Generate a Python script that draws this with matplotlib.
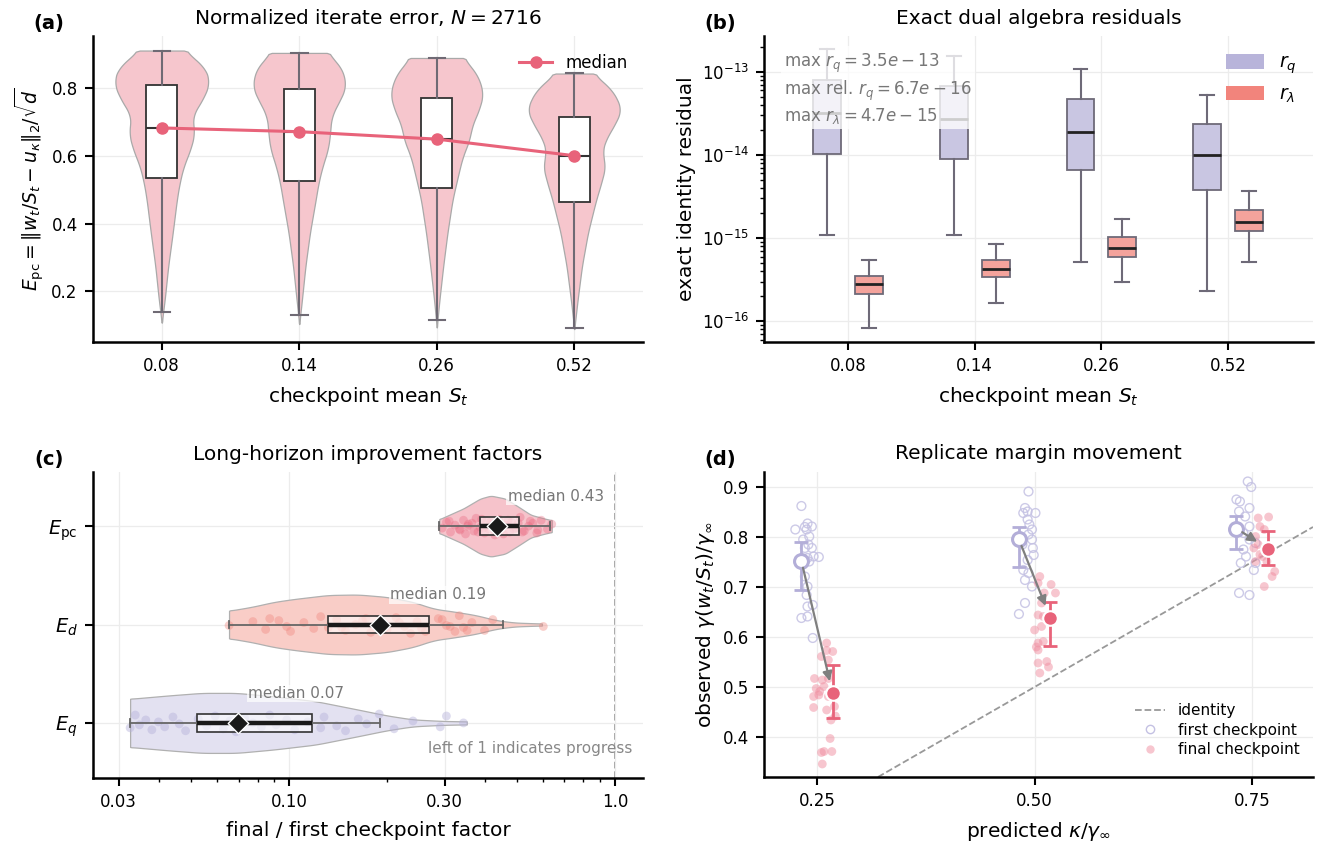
import numpy as np
import matplotlib
matplotlib.use('Agg')
import matplotlib.pyplot as plt
from matplotlib.lines import Line2D
from matplotlib.patches import Patch

plt.rcParams['font.family'] = ['DejaVu Sans']
plt.rcParams['mathtext.fontset'] = 'dejavusans'

# ------------------------------------------------------------------ data
checkpoints = ['0.08', '0.14', '0.26', '0.52']

# (a) normalized iterate error
epc_med = [0.683, 0.672, 0.650, 0.601]
epc_q1 = [0.535, 0.525, 0.505, 0.463]
epc_q3 = [0.810, 0.798, 0.773, 0.715]
epc_lo = [0.140, 0.130, 0.115, 0.092]
epc_hi = [0.912, 0.905, 0.890, 0.845]
# violin outlines: level and half-width
viol_y = [
    [0.107, 0.177, 0.275, 0.374, 0.472, 0.521, 0.571, 0.620, 0.669, 0.718, 0.768, 0.817, 0.866, 0.912],
    [0.103, 0.177, 0.275, 0.374, 0.472, 0.521, 0.571, 0.620, 0.669, 0.718, 0.768, 0.807, 0.866, 0.905],
    [0.093, 0.177, 0.275, 0.374, 0.472, 0.551, 0.600, 0.649, 0.689, 0.738, 0.787, 0.846, 0.890],
    [0.088, 0.177, 0.275, 0.374, 0.472, 0.521, 0.571, 0.610, 0.649, 0.689, 0.738, 0.797, 0.844],
]
viol_w = [
    [0.0, 0.022, 0.047, 0.080, 0.110, 0.130, 0.160, 0.210, 0.240, 0.220, 0.300, 0.350, 0.310, 0.160],
    [0.0, 0.020, 0.045, 0.078, 0.120, 0.140, 0.170, 0.210, 0.225, 0.234, 0.300, 0.343, 0.305, 0.200],
    [0.0, 0.020, 0.047, 0.078, 0.115, 0.160, 0.190, 0.240, 0.255, 0.310, 0.340, 0.290, 0.190],
    [0.0, 0.025, 0.056, 0.100, 0.160, 0.197, 0.228, 0.203, 0.228, 0.290, 0.346, 0.275, 0.135],
]

# (b) exact dual algebra residuals
rq_med = [3.2e-14, 2.7e-14, 1.9e-14, 1.0e-14]
rq_q1 = [1.03e-14, 8.9e-15, 6.6e-15, 3.8e-15]
rq_q3 = [8.0e-14, 6.7e-14, 4.7e-14, 2.34e-14]
rq_lo = [1.1e-15, 1.1e-15, 5.1e-16, 2.3e-16]
rq_hi = [1.86e-13, 1.55e-13, 1.09e-13, 5.3e-14]
rl_med = [2.8e-16, 4.2e-16, 7.6e-16, 1.58e-15]
rl_q1 = [2.1e-16, 3.4e-16, 6.0e-16, 1.23e-15]
rl_q3 = [3.5e-16, 5.4e-16, 1.04e-15, 2.2e-15]
rl_lo = [8.3e-17, 1.66e-16, 3.0e-16, 5.2e-16]
rl_hi = [5.5e-16, 8.5e-16, 1.7e-15, 3.7e-15]
max_rq = '3.5e-13'
max_rel_rq = '6.7e-16'
max_rl = '4.7e-15'
decade_ticks = [1e-16, 1e-15, 1e-14, 1e-13]

# (c) long-horizon improvement factors
fac_labels = [r'$E_{\rm pc}$', r'$E_d$', r'$E_q$']
fac_med = [0.436, 0.190, 0.0695]
fac_q1 = [0.386, 0.132, 0.0522]
fac_q3 = [0.507, 0.269, 0.1174]
fac_lo = [0.289, 0.0654, 0.0325]
fac_hi = [0.631, 0.455, 0.190]
fac_med_text = ['0.43', '0.19', '0.07']
fac_viol_x = [
    [0.289, 0.343, 0.386, 0.416, 0.461, 0.504, 0.552, 0.603, 0.640],
    [0.0654, 0.077, 0.090, 0.104, 0.132, 0.163, 0.200, 0.240, 0.278, 0.323, 0.375, 0.430, 0.490, 0.597],
    [0.0325, 0.043, 0.054, 0.069, 0.090, 0.121, 0.163, 0.200, 0.240, 0.295, 0.351],
]
fac_viol_w = [
    [0.07, 0.18, 0.28, 0.31, 0.28, 0.20, 0.115, 0.08, 0.06],
    [0.14, 0.18, 0.23, 0.26, 0.30, 0.305, 0.28, 0.23, 0.16, 0.13, 0.095, 0.045, 0.02, 0.01],
    [0.245, 0.28, 0.305, 0.305, 0.27, 0.22, 0.135, 0.075, 0.035, 0.02, 0.015],
]
pts_pc = [0.295, 0.304, 0.313, 0.323, 0.333, 0.343, 0.348, 0.353, 0.364, 0.369, 0.375, 0.386,
          0.398, 0.404, 0.410, 0.422, 0.428, 0.441, 0.448, 0.461, 0.475, 0.482, 0.497, 0.512,
          0.527, 0.543, 0.560, 0.576, 0.594, 0.621, 0.640,
          0.310, 0.335, 0.355, 0.380, 0.390, 0.395, 0.415, 0.430, 0.445, 0.455, 0.470, 0.490,
          0.505, 0.520, 0.550, 0.580]
jit_pc = [0.02, -0.04, 0.06, -0.01, 0.03, -0.06, 0.08, 0.00, -0.03, 0.05, -0.08, 0.01, 0.07,
          -0.05, 0.03, -0.02, 0.09, -0.07, 0.04, -0.01, 0.06, -0.04, 0.02, -0.09, 0.05, 0.00,
          -0.03, 0.07, -0.06, 0.03, -0.02,
          -0.05, 0.04, -0.02, 0.06, -0.07, 0.02, -0.04, 0.05, -0.01, 0.08, -0.06, 0.03, -0.03,
          0.06, -0.05, 0.04]
pts_d = [0.0654, 0.0774, 0.0847, 0.0872, 0.0983, 0.101, 0.111, 0.119, 0.125, 0.132, 0.140,
         0.149, 0.160, 0.168, 0.178, 0.189, 0.200, 0.213, 0.226, 0.236, 0.247, 0.255, 0.287,
         0.304, 0.323, 0.333, 0.343, 0.364, 0.398, 0.422, 0.603,
         0.093, 0.145, 0.172, 0.195, 0.218, 0.262, 0.295, 0.312, 0.352]
jit_d = [0.01, -0.03, 0.05, -0.06, 0.02, 0.07, -0.02, 0.04, -0.08, 0.03, -0.05, 0.06, 0.00,
         -0.04, 0.08, -0.01, 0.05, -0.07, 0.02, 0.09, -0.03, 0.04, -0.06, 0.01, 0.07, -0.09,
         0.03, -0.02, 0.06, -0.05, 0.02,
         -0.04, 0.03, -0.06, 0.05, -0.02, 0.07, -0.05, 0.02, 0.06]
pts_q = [0.0325, 0.0337, 0.0347, 0.0363, 0.0379, 0.0397, 0.0415, 0.0440, 0.0460, 0.0481,
         0.0526, 0.0558, 0.0593, 0.0628, 0.0658, 0.0687, 0.0730, 0.0774, 0.0822, 0.0872,
         0.0912, 0.0983, 0.104, 0.114, 0.125, 0.128, 0.140, 0.149, 0.163, 0.173, 0.189,
         0.210, 0.240, 0.291, 0.304, 0.343]
jit_q = [0.05, -0.08, 0.02, -0.03, 0.07, -0.01, 0.04, -0.06, 0.01, 0.08, -0.04, 0.03, -0.07,
         0.06, -0.02, 0.09, -0.05, 0.00, 0.04, -0.08, 0.02, -0.03, 0.07, -0.01, 0.05, -0.06,
         0.03, 0.08, -0.04, 0.01, -0.09, 0.06, -0.02, 0.04, -0.07, 0.00]

# (d) replicate margin movement
pred = [0.25, 0.50, 0.75]
first_mean = [0.752, 0.795, 0.817]
first_lo = [0.694, 0.741, 0.776]
first_hi = [0.790, 0.821, 0.843]
final_mean = [0.487, 0.639, 0.777]
final_lo = [0.437, 0.583, 0.744]
final_hi = [0.543, 0.669, 0.813]
first_x = [
    [0.232, 0.225, 0.236, 0.239, 0.244, 0.238, 0.241, 0.234, 0.240, 0.236, 0.244, 0.246, 0.252,
     0.239, 0.241, 0.236, 0.239, 0.238, 0.239, 0.245, 0.232, 0.239, 0.245],
    [0.493, 0.489, 0.492, 0.487, 0.501, 0.492, 0.494, 0.497, 0.493, 0.497, 0.486, 0.498, 0.499,
     0.492, 0.487, 0.493, 0.489, 0.497, 0.489, 0.482],
    [0.745, 0.749, 0.732, 0.736, 0.747, 0.735, 0.742, 0.747, 0.740, 0.747, 0.754, 0.740, 0.743,
     0.752, 0.735, 0.747, 0.754, 0.737],
]
first_y = [
    [0.862, 0.815, 0.820, 0.827, 0.821, 0.815, 0.801, 0.795, 0.785, 0.778, 0.778, 0.761, 0.760,
     0.758, 0.751, 0.721, 0.701, 0.684, 0.661, 0.664, 0.638, 0.641, 0.598],
    [0.891, 0.858, 0.851, 0.848, 0.848, 0.835, 0.825, 0.815, 0.805, 0.795, 0.785, 0.778, 0.764,
     0.754, 0.734, 0.728, 0.714, 0.701, 0.668, 0.646],
    [0.911, 0.900, 0.875, 0.871, 0.858, 0.851, 0.841, 0.821, 0.808, 0.795, 0.788, 0.775, 0.761,
     0.734, 0.688, 0.684, 0.748, 0.748],
]
final_x = [
    [0.261, 0.268, 0.255, 0.261, 0.263, 0.247, 0.256, 0.263, 0.249, 0.258, 0.253, 0.246, 0.252,
     0.263, 0.246, 0.261, 0.270, 0.266, 0.271, 0.265, 0.255, 0.258, 0.267, 0.256],
    [0.506, 0.504, 0.519, 0.511, 0.524, 0.508, 0.504, 0.510, 0.500, 0.508, 0.504, 0.510, 0.504,
     0.504, 0.514, 0.516, 0.506, 0.502],
    [0.757, 0.769, 0.759, 0.764, 0.754, 0.752, 0.759, 0.754, 0.767, 0.762, 0.776, 0.773, 0.764,
     0.757],
]
final_y = [
    [0.588, 0.571, 0.561, 0.573, 0.554, 0.517, 0.514, 0.517, 0.497, 0.501, 0.491, 0.481, 0.484,
     0.481, 0.459, 0.454, 0.461, 0.434, 0.442, 0.397, 0.369, 0.371, 0.371, 0.346],
    [0.721, 0.708, 0.705, 0.688, 0.688, 0.668, 0.644, 0.641, 0.614, 0.621, 0.588, 0.591, 0.574,
     0.548, 0.551, 0.540, 0.528, 0.580],
    [0.838, 0.840, 0.821, 0.815, 0.801, 0.778, 0.765, 0.751, 0.751, 0.761, 0.731, 0.721, 0.701,
     0.785],
]

# ------------------------------------------------------------------ style
PINK = '#e8637a'
PINK_V = '#f6c6cd'
LAV = '#b3aed8'
GRID = '#ececec'
W, H = 1327, 850
TICK_FS = 12
LABEL_FS = 14.5
TITLE_FS = 14.5


def style_axes(ax):
    for s in ['top', 'right']:
        ax.spines[s].set_visible(False)
    for s in ['left', 'bottom']:
        ax.spines[s].set_linewidth(1.8)
        ax.spines[s].set_color('black')
    ax.tick_params(axis='both', which='major', direction='out', length=6, width=1.5,
                   labelsize=TICK_FS, color='black', pad=5)
    ax.tick_params(axis='both', which='minor', direction='out', length=3, width=1.0)
    ax.grid(True, which='major', color=GRID, lw=0.9)
    ax.set_axisbelow(True)


def rect(l, t, r, b):
    return [l / W, 1 - b / H, (r - l) / W, (b - t) / H]


def smooth_profile(levels, widths, n=240, k=17):
    g = np.linspace(levels[0], levels[-1], n)
    w = np.interp(g, levels, widths)
    pad = np.concatenate([np.full(k, w[0]), w, np.full(k, w[-1])])
    ker = np.ones(k) / k
    ws = np.convolve(pad, ker, mode='same')[k:-k]
    ws[0] = widths[0]
    ws[-1] = widths[-1]
    return g, ws


fig = plt.figure(figsize=(W / 100, H / 100), dpi=100)

# ------------------------------------------------------------------ (a)
ax = fig.add_axes(rect(93, 36, 643, 342))
style_axes(ax)
pos = np.arange(len(checkpoints))
for i in range(len(checkpoints)):
    g, ws = smooth_profile(viol_y[i], viol_w[i])
    ax.fill_betweenx(g, pos[i] - ws, pos[i] + ws, facecolor=PINK_V, edgecolor='#a9a9a9',
                     lw=0.9, zorder=1)
stats_a = [dict(med=epc_med[i], q1=epc_q1[i], q3=epc_q3[i], whislo=epc_lo[i],
                whishi=epc_hi[i], fliers=[]) for i in range(len(checkpoints))]
ax.bxp(stats_a, positions=pos, widths=0.225, capwidths=0.12, patch_artist=True,
       boxprops=dict(facecolor='white', edgecolor='#333333', lw=1.3),
       whiskerprops=dict(color='#6f6a74', lw=1.5),
       capprops=dict(color='#6f6a74', lw=1.5),
       medianprops=dict(color='#333333', lw=1.5), zorder=2)
ax.plot(pos, epc_med, color=PINK, lw=2.2, marker='o', ms=8, zorder=4, label='median')
ax.set_xlim(-0.5, 3.5)
ax.set_ylim(0.05, 0.955)
ax.set_xticks(pos)
ax.set_xticklabels(checkpoints)
ax.set_yticks([0.2, 0.4, 0.6, 0.8])
ax.set_xlabel(r'checkpoint mean $S_t$', fontsize=LABEL_FS, labelpad=7)
ax.set_ylabel(r'$E_{\rm pc} = \|w_t/S_t - u_\kappa\|_2/\sqrt{d}$', fontsize=13.5)
ax.set_title(r'Normalized iterate error, $N = 2716$', fontsize=TITLE_FS, pad=9)
ax.legend(loc='upper right', frameon=False, fontsize=12, handlelength=2.0,
          bbox_to_anchor=(1.0, 0.99))

# ------------------------------------------------------------------ (b)
ax = fig.add_axes(rect(764, 36, 1313, 342))
style_axes(ax)
ax.set_yscale('log')
off = 0.165
stats_q = [dict(med=rq_med[i], q1=rq_q1[i], q3=rq_q3[i], whislo=rq_lo[i], whishi=rq_hi[i],
                fliers=[]) for i in range(4)]
stats_l = [dict(med=rl_med[i], q1=rl_q1[i], q3=rl_q3[i], whislo=rl_lo[i], whishi=rl_hi[i],
                fliers=[]) for i in range(4)]
edge_b = '#6e6a78'
ax.bxp(stats_q, positions=pos - off, widths=0.22, capwidths=0.11, patch_artist=True,
       boxprops=dict(facecolor='#c9c6e2', edgecolor=edge_b, lw=1.3),
       whiskerprops=dict(color=edge_b, lw=1.5), capprops=dict(color=edge_b, lw=1.5),
       medianprops=dict(color='#222222', lw=2.0))
ax.bxp(stats_l, positions=pos + off, widths=0.22, capwidths=0.11, patch_artist=True,
       boxprops=dict(facecolor='#f4a39c', edgecolor=edge_b, lw=1.3),
       whiskerprops=dict(color=edge_b, lw=1.5), capprops=dict(color=edge_b, lw=1.5),
       medianprops=dict(color='#222222', lw=2.0))
ax.set_xlim(-0.663, 3.67)
ax.set_ylim(10 ** -16.25, 10 ** -12.57)
ax.set_yticks(decade_ticks)
ax.set_xticks(pos)
ax.set_xticklabels(checkpoints)
ax.grid(False, which='minor')
ax.set_xlabel(r'checkpoint mean $S_t$', fontsize=LABEL_FS, labelpad=7)
ax.set_ylabel('exact identity residual', fontsize=LABEL_FS)
ax.set_title('Exact dual algebra residuals', fontsize=TITLE_FS, pad=9)
txt = (r'$\mathrm{max}\ r_q = ' + max_rq + '$\n' +
       r'$\mathrm{max\ rel.}\,r_q = ' + max_rel_rq + '$\n' +
       r'$\mathrm{max}\ r_\lambda = ' + max_rl + '$')
ax.text(0.037, 0.948, txt, transform=ax.transAxes, ha='left', va='top', fontsize=12,
        color='#777777', linespacing=1.22, zorder=5,
        bbox=dict(facecolor='white', edgecolor='none', alpha=0.78, pad=2))
ax.legend(handles=[Patch(facecolor='#b8b4da', label=r'$r_q$'),
                   Patch(facecolor='#f2847c', label=r'$r_\lambda$')],
          loc='upper right', frameon=False, fontsize=13.5, handlelength=2.0,
          handleheight=0.8, labelspacing=0.45, bbox_to_anchor=(1.0, 1.0))

# ------------------------------------------------------------------ (c)
ax = fig.add_axes(rect(93, 472, 643, 778))
style_axes(ax)
ax.set_xscale('log')
viol_cols = ['#f6c3cb', '#f9cdc7', '#e3e1f1']
pt_cols = ['#e9677e', '#f0877f', '#b5b1da']
pt_alpha = [0.35, 0.4, 0.45]
ypos = np.arange(3)
pts = [pts_pc, pts_d, pts_q]
jits = [jit_pc, jit_d, jit_q]
for i in range(3):
    lx = np.log10(fac_viol_x[i])
    g, ws = smooth_profile(list(lx), fac_viol_w[i], k=13)
    ax.fill_between(10 ** g, ypos[i] - ws, ypos[i] + ws, facecolor=viol_cols[i],
                    edgecolor='#b0b0b0', lw=0.9, zorder=1)
    ax.scatter(pts[i], ypos[i] + np.array(jits[i]), s=40, color=pt_cols[i],
               alpha=pt_alpha[i], edgecolor='none', zorder=2)
stats_c = [dict(med=fac_med[i], q1=fac_q1[i], q3=fac_q3[i], whislo=fac_lo[i],
                whishi=fac_hi[i], fliers=[]) for i in range(3)]
bp = ax.bxp(stats_c, positions=ypos, widths=0.18, capwidths=0.08, orientation='horizontal',
            patch_artist=True,
            boxprops=dict(facecolor=(1, 1, 1, 0.6), edgecolor='#333333', lw=1.2),
            whiskerprops=dict(color='#666666', lw=1.3), capprops=dict(color='#666666', lw=1.3),
            medianprops=dict(color='none', lw=0), zorder=3)
ax.hlines(ypos, fac_q1, fac_q3, color='#1a1a1a', lw=3.2, zorder=4)
ax.scatter(fac_med, ypos, marker='D', s=110, color='#1a1a1a', edgecolor='white', lw=1.0,
           zorder=5)
for i in range(3):
    ax.text(fac_med[i] * 1.075, ypos[i] - 0.3, 'median ' + fac_med_text[i], fontsize=11,
            color='#777777', ha='left', va='center', zorder=6,
            bbox=dict(facecolor='white', edgecolor='none', alpha=0.7, pad=1))
ax.axvline(1.0, color='#999999', ls='--', lw=1.3, zorder=0)
ax.text(0.98, 0.095, 'left of 1 indicates progress', transform=ax.transAxes, ha='right',
        va='center', fontsize=11, color='#888888')
ax.set_xlim(0.025, 1.22)
ax.set_ylim(2.56, -0.55)
ax.set_yticks(ypos)
ax.set_yticklabels(fac_labels, fontsize=14)
ax.set_xticks([0.03, 0.1, 0.3, 1.0])
ax.set_xticklabels(['0.03', '0.10', '0.30', '1.0'])
ax.grid(False, which='minor')
ax.set_xlabel('final / first checkpoint factor', fontsize=LABEL_FS, labelpad=7)
ax.set_title('Long-horizon improvement factors', fontsize=TITLE_FS, pad=9)

# ------------------------------------------------------------------ (d)
ax = fig.add_axes(rect(764, 472, 1313, 777))
style_axes(ax)
dx = 0.018
ax.axline((0.5, 0.5), slope=1, color='#999999', ls='--', lw=1.3, zorder=1)
for i in range(3):
    ax.scatter(first_x[i], first_y[i], s=40, facecolor='none', edgecolor='#c4c1e3',
               lw=1.0, alpha=0.85, zorder=2)
    ax.scatter(final_x[i], final_y[i], s=40, color='#f08ea0', alpha=0.5, edgecolor='none',
               zorder=2)
fx = np.array(pred) - dx
gx = np.array(pred) + dx
ax.errorbar(fx, first_mean, yerr=[np.array(first_mean) - np.array(first_lo),
                                  np.array(first_hi) - np.array(first_mean)],
            fmt='none', ecolor=LAV, elinewidth=2, capsize=5, capthick=2, zorder=3)
ax.errorbar(gx, final_mean, yerr=[np.array(final_mean) - np.array(final_lo),
                                  np.array(final_hi) - np.array(final_mean)],
            fmt='none', ecolor=PINK, elinewidth=2, capsize=5, capthick=2, zorder=3)
ax.plot(fx, first_mean, 'o', ms=10, mfc='white', mec=LAV, mew=2.2, ls='none', zorder=4)
ax.plot(gx, final_mean, 'o', ms=10.5, mfc=PINK, mec='white', mew=1.5, ls='none', zorder=4)
for i in range(3):
    ax.annotate('', xy=(gx[i], final_mean[i]), xytext=(fx[i], first_mean[i]),
                arrowprops=dict(arrowstyle='-|>', color='#7f7f7f', lw=1.6,
                                mutation_scale=14, shrinkA=5, shrinkB=9), zorder=5)
ax.set_xlim(0.189, 0.82)
ax.set_ylim(0.32, 0.93)
ax.set_xticks(pred)
ax.set_xticklabels(['0.25', '0.50', '0.75'])
ax.set_yticks([0.4, 0.5, 0.6, 0.7, 0.8, 0.9])
ax.set_xlabel(r'predicted $\kappa/\gamma_\infty$', fontsize=LABEL_FS, labelpad=7)
ax.set_ylabel(r'observed $\gamma(w_t/S_t)/\gamma_\infty$', fontsize=LABEL_FS)
ax.set_title('Replicate margin movement', fontsize=TITLE_FS, pad=9)
ax.legend(handles=[Line2D([], [], color='#999999', ls='--', lw=1.3, label='identity'),
                   Line2D([], [], marker='o', ls='none', mfc='none', mec='#c4c1e3', ms=6,
                          label='first checkpoint'),
                   Line2D([], [], marker='o', ls='none', mfc='#f08ea0', mec='none', alpha=0.5,
                          ms=6, label='final checkpoint')],
          loc='lower right', frameon=False, fontsize=11, handlelength=2.0,
          labelspacing=0.3, bbox_to_anchor=(1.0, 0.02))

# ------------------------------------------------------------------ panel letters
for lab, x, y in [('(a)', 49, 23), ('(b)', 720, 23), ('(c)', 49, 459), ('(d)', 720, 459)]:
    fig.text(x / W, 1 - y / H, lab, fontsize=14, fontweight='bold', ha='center',
             va='center')

fig.savefig('out.png', dpi=100)
